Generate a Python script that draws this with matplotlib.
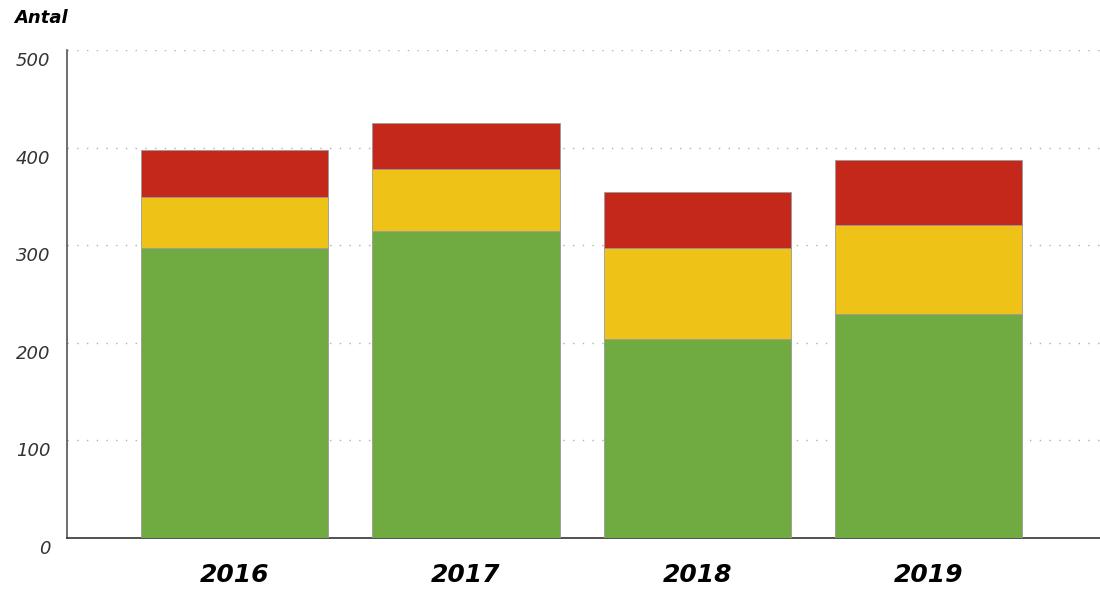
import matplotlib.pyplot as plt
import matplotlib.transforms as mtransforms

# Values
years = ["2016", "2017", "2018", "2019"]
green = [297, 315, 204, 229]
yellow = [52, 63, 93, 92]
red = [49, 47, 58, 66]

c_green = "#6fab40"
c_yellow = "#efc217"
c_red = "#c4281a"

fig = plt.figure(figsize=(11, 5.89), dpi=100)
ax = fig.add_axes([0.061, 0.0866, 0.939, 0.8285])

x = range(len(years))
bottom2 = [g + y for g, y in zip(green, yellow)]
kw = dict(width=0.81, edgecolor="#9a9a9a", linewidth=0.6, zorder=3)
ax.bar(x, green, color=c_green, **kw)
ax.bar(x, yellow, bottom=green, color=c_yellow, **kw)
ax.bar(x, red, bottom=bottom2, color=c_red, **kw)

ax.set_xlim(-0.724, 3.74)
ax.set_ylim(0, 500)
ax.set_yticks([0, 100, 200, 300, 400, 500])
ax.set_yticklabels(["0", "100", "200", "300", "400", "500"],
                   fontsize=13, fontstyle="italic", color="#333333")
ax.set_xticks(list(x))
ax.set_xticklabels(years, fontsize=18, fontweight="bold", fontstyle="italic")
ax.tick_params(axis="both", length=0)
ax.tick_params(axis="y", pad=12)
ax.tick_params(axis="x", pad=18)

# y labels sit a little below their gridlines in the reference
shift = mtransforms.ScaledTranslation(0, -9 / 100, fig.dpi_scale_trans)
for lab in ax.get_yticklabels():
    lab.set_transform(lab.get_transform() + shift)

for v in [100, 200, 300, 400, 500]:
    ax.axhline(v, color="#b0b0b0", linestyle=(0, (1, 6)), linewidth=1, zorder=1)

for s in ["top", "right"]:
    ax.spines[s].set_visible(False)
ax.spines["left"].set_color("#555555")
ax.spines["left"].set_linewidth(1.2)
ax.spines["bottom"].set_color("#333333")
ax.spines["bottom"].set_linewidth(1.2)

fig.text(0.013, 0.955, "Antal", fontsize=13, fontweight="bold", fontstyle="italic",
         va="bottom", ha="left")

fig.savefig("out.png", dpi=100)
